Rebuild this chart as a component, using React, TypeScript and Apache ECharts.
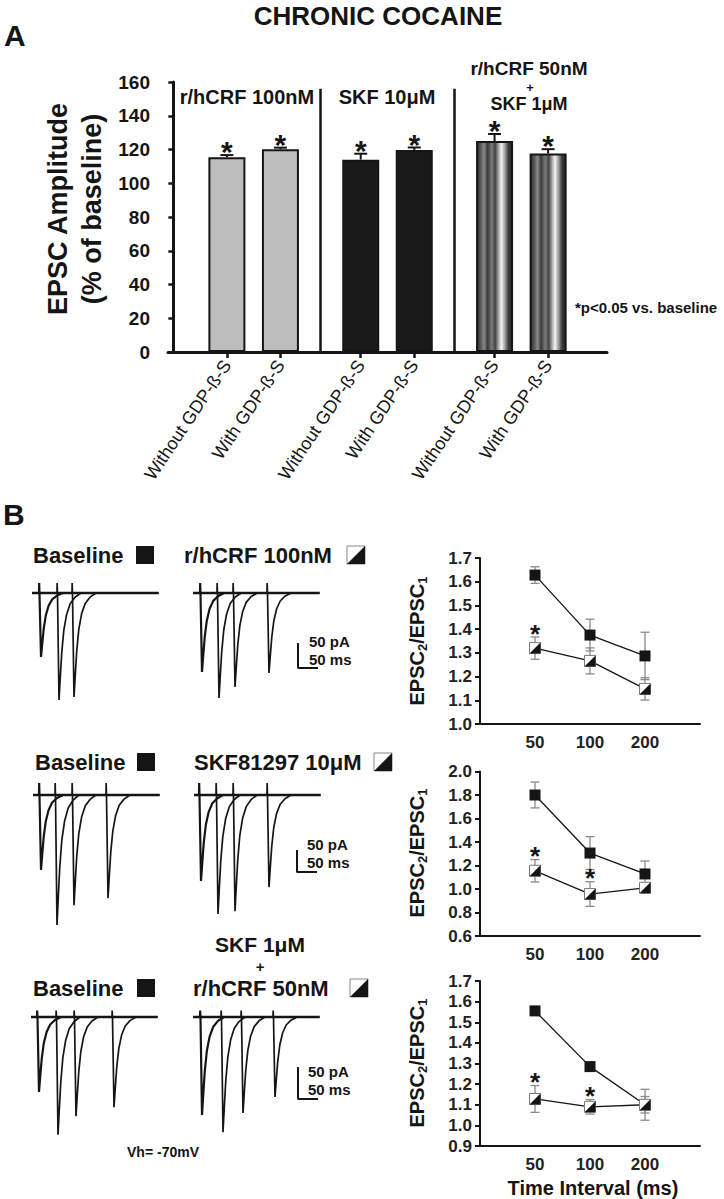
import React, { useEffect, useRef } from "react";
import * as echarts from "echarts";

// ---------- Panel A data ----------
const BAR_LABELS = ["Without GDP-ß-S", "With GDP-ß-S", "Without GDP-ß-S", "With GDP-ß-S", "Without GDP-ß-S", "With GDP-ß-S"];
const BAR_POSITIONS = [1, 2, 3.5, 4.5, 6, 7];
const BAR_VALUES = [115.4, 120.2, 114.0, 119.7, 125.0, 117.6];
const BAR_ERRORS = [1.3, 0.9, 3.5, 1.5, 4.2, 2.6];
const BAR_FILLS = ["gray", "gray", "black", "black", "striped", "striped"];
const BAR_SIG = [true, true, true, true, true, true];
const GROUP_SEPARATORS = [2.75, 5.25];
const BASELINE_PCT = 100;

// ---------- Panel B paired-pulse data ----------
const INTERVAL_LABELS = ["50", "100", "200"];
const PPR_BASE = [
  [1.628, 1.375, 1.287],
  [1.80, 1.306, 1.128],
  [1.555, 1.285, 1.10],
];
const PPR_BASE_ERR = [
  [0.035, 0.067, 0.10],
  [0.11, 0.14, 0.11],
  [0.008, 0.015, 0.04],
];
const PPR_TREAT = [
  [1.32, 1.266, 1.148],
  [1.155, 0.957, 1.01],
  [1.128, 1.09, 1.10],
];
const PPR_TREAT_ERR = [
  [0.047, 0.055, 0.047],
  [0.095, 0.105, 0.015],
  [0.065, 0.035, 0.075],
];
const PPR_SIG = [
  [true, false, false],
  [true, true, false],
  [true, true, false],
];
const PPR_MIN = [1.0, 0.6, 0.9];
const PPR_MAX = [1.7, 2.0, 1.7];
const PPR_STEP = [0.1, 0.2, 0.1];

// ---------- Panel B traces (ms, pA) ----------
const TRACE_ONSETS = [
  [[17.5, 62.5, 100], [17.5, 60, 100, 185]],
  [[15, 55, 97.5, 182.5], [12.5, 55, 97.5, 182.5]],
  [[15, 62.5, 107.5, 202.5], [17.5, 70, 120, 200]],
];
const TRACE_AMPS = [
  [[128, 214, 208], [158, 210, 188, 160]],
  [[170, 295, 250, 234], [195, 270, 264, 209]],
  [[117, 184, 155, 141], [153, 180, 150, 125]],
];
const ARTIFACT_PA = [20, 27, 10];
const EPSC_SHAPE_MS = [0, 0.4, 1.2, 5, 8, 12, 17, 24, 33, 45, 60];
const EPSC_SHAPE_FRAC = [0, 0, 0, -1, -0.8, -0.55, -0.35, -0.2, -0.1, -0.04, 0];
const SWEEP_MS = 317;
const SCALE_PA = 50;
const SCALE_MS = 50;
const SCALE_ANCHOR_MS = [262.5, 257.5, 262.5];
const SCALE_ANCHOR_PA = [-100, -125, -78];

const FF = "'Liberation Sans', Arial, Helvetica, sans-serif";
const INK = "#151515";

function txt(text: string, x: number, y: number, fontSize: number, opts: any = {}) {
  const align = opts.align || "left";
  const va = opts.va || "middle";
  return {
    type: "text",
    x,
    y,
    rotation: opts.rotation || 0,
    z: 100,
    style: {
      text,
      fill: opts.fill || INK,
      fontSize,
      fontWeight: opts.weight || "bold",
      fontFamily: FF,
      align,
      verticalAlign: va,
      textAlign: align,
      textVerticalAlign: va,
      rich: opts.rich,
    },
  };
}

function blackSquare(x: number, y: number, s: number) {
  return { type: "rect", z: 100, shape: { x, y, width: s, height: s }, style: { fill: INK } };
}
function halfSquare(x: number, y: number, s: number) {
  return {
    type: "group",
    z: 100,
    children: [
      { type: "rect", shape: { x, y, width: s, height: s }, style: { fill: "#fff", stroke: "#888", lineWidth: 1 } },
      { type: "polygon", shape: { points: [[x + s, y], [x + s, y + s], [x, y + s]] }, style: { fill: INK } },
    ],
  };
}

function barFill(kind: string) {
  if (kind === "gray") return "#bcbcbc";
  if (kind === "black") return "#1a1a1a";
  return new echarts.graphic.LinearGradient(0, 0, 1, 0, [
    { offset: 0, color: "#333" },
    { offset: 0.1, color: "#555" },
    { offset: 0.2, color: "#8a8a8a" },
    { offset: 0.3, color: "#3a3a3a" },
    { offset: 0.42, color: "#7a7a7a" },
    { offset: 0.52, color: "#444" },
    { offset: 0.62, color: "#b0b0b0" },
    { offset: 0.7, color: "#f4f4f4" },
    { offset: 0.8, color: "#9a9a9a" },
    { offset: 0.9, color: "#3a3a3a" },
    { offset: 1, color: "#2a2a2a" },
  ]);
}

function buildOption() {
  const grids: any[] = [];
  const xAxes: any[] = [];
  const yAxes: any[] = [];
  const series: any[] = [];

  // ----- Grid 0 : bar chart -----
  grids.push({ left: 168, top: 82, width: 439, height: 270 });
  xAxes.push({
    gridIndex: 0,
    type: "value",
    min: -0.1,
    max: 8.1,
    splitLine: { show: false },
    axisLine: { show: true, lineStyle: { color: INK, width: 3 } },
    axisTick: { show: true, customValues: BAR_POSITIONS, length: 6, lineStyle: { color: INK, width: 2.5 } },
    axisLabel: {
      customValues: BAR_POSITIONS,
      rotate: 56,
      margin: 10,
      fontSize: 18,
      color: INK,
      fontFamily: FF,
      formatter: (v: number) => {
        const i = BAR_POSITIONS.findIndex((p) => Math.abs(p - v) < 1e-6);
        return i >= 0 ? BAR_LABELS[i] : "";
      },
    },
  });
  yAxes.push({
    gridIndex: 0,
    type: "value",
    min: 0,
    max: 160,
    interval: 20,
    splitLine: { show: false },
    axisLine: { show: true, lineStyle: { color: INK, width: 3 } },
    axisTick: { show: true, length: 5, lineStyle: { color: INK, width: 2.5 } },
    axisLabel: { fontSize: 19, fontWeight: "bold", color: INK, margin: 18, fontFamily: FF },
  });

  // helper series for reference lines
  series.push({
    type: "line",
    xAxisIndex: 0,
    yAxisIndex: 0,
    data: [],
    z: 1,
    silent: true,
    markLine: {
      silent: true,
      symbol: ["none", "none"],
      label: { show: false },
      animation: false,
      data: [
        [
          { coord: [-0.1, BASELINE_PCT], lineStyle: { color: "#9a9a9a", width: 2, type: [14, 9] } },
          { coord: [8.5, BASELINE_PCT] },
        ],
        ...GROUP_SEPARATORS.map((s) => [
          { coord: [s, 0], lineStyle: { color: INK, width: 2.5, type: "solid" } },
          { coord: [s, 156] },
        ]),
      ],
    },
  });

  series.push({
    type: "bar",
    xAxisIndex: 0,
    yAxisIndex: 0,
    barWidth: 37,
    z: 2,
    data: BAR_POSITIONS.map((x, i) => ({
      value: [x, BAR_VALUES[i]],
      itemStyle: { color: barFill(BAR_FILLS[i]), borderColor: INK, borderWidth: 2 },
    })),
  });

  const STAR_A = 30;
  series.push({
    type: "custom",
    xAxisIndex: 0,
    yAxisIndex: 0,
    z: 3,
    encode: { x: 0, y: 1 },
    data: BAR_POSITIONS.map((x, i) => [x, BAR_VALUES[i], BAR_ERRORS[i], BAR_SIG[i] ? 1 : 0]),
    renderItem: (params: any, api: any) => {
      const x = api.value(0), y = api.value(1), e = api.value(2), sig = api.value(3);
      const p0 = api.coord([x, y]);
      const p1 = api.coord([x, y + e]);
      const cap = 6.5;
      const children: any[] = [
        { type: "line", shape: { x1: p0[0], y1: p0[1], x2: p1[0], y2: p1[1] }, style: { stroke: INK, lineWidth: 2 } },
        { type: "line", shape: { x1: p1[0] - cap, y1: p1[1], x2: p1[0] + cap, y2: p1[1] }, style: { stroke: INK, lineWidth: 2 } },
      ];
      if (sig) {
        children.push({
          type: "text",
          x: p1[0],
          y: p1[1] - 10 + 0.22 * STAR_A,
          style: { text: "*", fontSize: STAR_A, fontWeight: "bold", fontFamily: FF, fill: INK, align: "center", verticalAlign: "middle" },
        });
      }
      return { type: "group", children };
    },
  });

  // ----- Trace grids -----
  const ROW_BASE_Y = [593, 795, 1017];
  const ROW_PA_PER_PX = [2, 2.27, 1.5625];
  const ROW_X0 = [[32, 193], [33, 194], [31, 193]];
  const MS_PER_PX = 2.5;
  for (let r = 0; r < 3; r++) {
    for (let b = 0; b < 2; b++) {
      const gi = grids.length;
      grids.push({ left: ROW_X0[r][b], top: ROW_BASE_Y[r] - 20, width: SWEEP_MS / MS_PER_PX, height: 160 });
      xAxes.push({ gridIndex: gi, type: "value", min: 0, max: SWEEP_MS, show: false });
      yAxes.push({ gridIndex: gi, type: "value", min: -140 * ROW_PA_PER_PX[r], max: 20 * ROW_PA_PER_PX[r], show: false });
      series.push({
        type: "line",
        xAxisIndex: gi,
        yAxisIndex: gi,
        symbol: "none",
        lineStyle: { color: INK, width: 2.4 },
        data: [[0, 0], [SWEEP_MS, 0]],
      });
      const onsets = TRACE_ONSETS[r][b];
      const amps = TRACE_AMPS[r][b];
      onsets.forEach((t0, k) => {
        const pts = EPSC_SHAPE_MS.map((dt, j) => [t0 + dt, j === 1 ? ARTIFACT_PA[r] : EPSC_SHAPE_FRAC[j] * amps[k]]);
        series.push({
          type: "line",
          xAxisIndex: gi,
          yAxisIndex: gi,
          symbol: "none",
          clip: false,
          lineStyle: { color: INK, width: k === 0 ? 2.2 : 1.7 },
          data: pts,
        });
      });
      if (b === 1) {
        const t = SCALE_ANCHOR_MS[r], v = SCALE_ANCHOR_PA[r];
        series.push({
          type: "line",
          xAxisIndex: gi,
          yAxisIndex: gi,
          symbol: "none",
          clip: false,
          lineStyle: { color: INK, width: 2 },
          data: [[t, v], [t, v - SCALE_PA], [t + SCALE_MS, v - SCALE_PA]],
        });
      }
    }
  }

  // ----- Paired-pulse grids -----
  const PPR_TOP = [558, 771.5, 981];
  const PPR_H = [166, 164.5, 165];
  for (let p = 0; p < 3; p++) {
    const gi = grids.length;
    grids.push({ left: 480, top: PPR_TOP[p], width: 220, height: PPR_H[p] });
    xAxes.push({
      gridIndex: gi,
      type: "value",
      min: 0,
      max: 4,
      interval: 1,
      splitLine: { show: false },
      axisLine: { show: true, lineStyle: { color: INK, width: 2 } },
      axisTick: { show: false },
      axisLabel: {
        fontSize: 17,
        fontWeight: "bold",
        color: "#222",
        margin: 10,
        fontFamily: FF,
        formatter: (v: number) => (v >= 1 && v <= 3 ? INTERVAL_LABELS[Math.round(v) - 1] : ""),
      },
    });
    yAxes.push({
      gridIndex: gi,
      type: "value",
      min: PPR_MIN[p],
      max: PPR_MAX[p],
      interval: PPR_STEP[p],
      splitLine: { show: false },
      axisLine: { show: true, lineStyle: { color: INK, width: 2 } },
      axisTick: { show: true, length: 5, lineStyle: { color: INK, width: 2 } },
      axisLabel: {
        fontSize: 17,
        fontWeight: "bold",
        color: "#222",
        margin: 8,
        fontFamily: FF,
        formatter: (v: number) => v.toFixed(1),
      },
    });
    const errData = [0, 1, 2].flatMap((i) => [
      [i + 1, PPR_BASE[p][i], PPR_BASE_ERR[p][i]],
      [i + 1, PPR_TREAT[p][i], PPR_TREAT_ERR[p][i]],
    ]);
    series.push({
      type: "custom",
      xAxisIndex: gi,
      yAxisIndex: gi,
      z: 2,
      encode: { x: 0, y: 1 },
      data: errData,
      renderItem: (params: any, api: any) => {
        const x = api.value(0), y = api.value(1), e = api.value(2);
        const a = api.coord([x, y + e]);
        const b = api.coord([x, y - e]);
        const cap = 4.5;
        const st = { stroke: "#8a8a8a", lineWidth: 1.3 };
        return {
          type: "group",
          children: [
            { type: "line", shape: { x1: a[0], y1: a[1], x2: b[0], y2: b[1] }, style: st },
            { type: "line", shape: { x1: a[0] - cap, y1: a[1], x2: a[0] + cap, y2: a[1] }, style: st },
            { type: "line", shape: { x1: b[0] - cap, y1: b[1], x2: b[0] + cap, y2: b[1] }, style: st },
          ],
        };
      },
    });
    series.push({
      type: "line",
      xAxisIndex: gi,
      yAxisIndex: gi,
      z: 3,
      symbol: "none",
      lineStyle: { color: INK, width: 1.3 },
      data: PPR_TREAT[p].map((v, i) => [i + 1, v]),
    });
    series.push({
      type: "line",
      xAxisIndex: gi,
      yAxisIndex: gi,
      z: 4,
      symbol: "rect",
      symbolSize: 11,
      itemStyle: { color: INK },
      lineStyle: { color: INK, width: 1.3 },
      data: PPR_BASE[p].map((v, i) => [i + 1, v]),
    });
    series.push({
      type: "custom",
      xAxisIndex: gi,
      yAxisIndex: gi,
      z: 5,
      encode: { x: 0, y: 1 },
      data: PPR_TREAT[p].map((v, i) => [i + 1, v, PPR_TREAT_ERR[p][i], PPR_SIG[p][i] ? 1 : 0]),
      renderItem: (params: any, api: any) => {
        const x = api.value(0), y = api.value(1), e = api.value(2), sig = api.value(3);
        const c = api.coord([x, y]);
        const h = 5.5;
        const children: any[] = [
          { type: "rect", shape: { x: c[0] - h, y: c[1] - h, width: 2 * h, height: 2 * h }, style: { fill: "#fff", stroke: "#7a7a7a", lineWidth: 1 } },
          { type: "polygon", shape: { points: [[c[0] + h, c[1] - h], [c[0] + h, c[1] + h], [c[0] - h, c[1] + h]] }, style: { fill: INK } },
        ];
        if (sig) {
          const t = api.coord([x, y + e]);
          children.push({
            type: "text",
            x: t[0],
            y: t[1] - 9 + 0.22 * 26,
            style: { text: "*", fontSize: 26, fontWeight: "bold", fontFamily: FF, fill: INK, align: "center", verticalAlign: "middle" },
          });
        }
        return { type: "group", children };
      },
    });
  }

  // ----- Text / annotations -----
  const subRich = {
    a: { fontSize: 20, fontWeight: "bold", fontFamily: FF, fill: INK, color: INK, lineHeight: 24 },
    s: { fontSize: 13, fontWeight: "bold", fontFamily: FF, fill: INK, color: INK, lineHeight: 10, verticalAlign: "bottom" },
  };
  const elements: any[] = [
    txt("CHRONIC COCAINE", 378, 16, 26, { align: "center" }),
    txt("A", 4, 35, 30),
    txt("EPSC Amplitude", 58, 209, 27, { align: "center", rotation: Math.PI / 2 }),
    txt("(% of baseline)", 92, 209, 27, { align: "center", rotation: Math.PI / 2 }),
    txt("r/hCRF 100nM", 247, 97, 20, { align: "center" }),
    txt("SKF 10μM", 387, 97, 20, { align: "center" }),
    txt("r/hCRF 50nM", 529, 68, 19, { align: "center" }),
    txt("+", 530, 87, 13, { align: "center" }),
    txt("SKF 1μM", 529, 104, 18, { align: "center" }),
    txt("*p<0.05 vs. baseline", 575, 307, 15),
    txt("B", 3, 514, 30),
    // row 1
    txt("Baseline", 33, 555, 22),
    blackSquare(136, 546, 18),
    txt("r/hCRF 100nM", 184, 555, 22),
    halfSquare(347, 546, 18),
    txt("50 pA", 309, 641, 15),
    txt("50 ms", 309, 659, 15),
    // row 2
    txt("Baseline", 35, 762, 22),
    blackSquare(137, 753, 18),
    txt("SKF81297 10μM", 194, 762, 22),
    halfSquare(374, 753, 18),
    txt("50 pA", 307, 844, 15),
    txt("50 ms", 307, 862, 15),
    // row 3
    txt("SKF 1μM", 260, 944, 21, { align: "center" }),
    txt("+", 260, 966, 15, { align: "center" }),
    txt("Baseline", 33, 988, 22),
    blackSquare(137, 979, 18),
    txt("r/hCRF 50nM", 193, 988, 22),
    halfSquare(350, 979, 18),
    txt("50 pA", 308, 1071, 15),
    txt("50 ms", 308, 1089, 15),
    txt("Vh= -70mV", 163, 1152, 14, { align: "center" }),
    // PPR axis names
    txt("{a|EPSC}{s|2}{a|/EPSC}{s|1}", 417, 641, 20, { align: "center", rotation: Math.PI / 2, rich: subRich }),
    txt("{a|EPSC}{s|2}{a|/EPSC}{s|1}", 417, 853, 20, { align: "center", rotation: Math.PI / 2, rich: subRich }),
    txt("{a|EPSC}{s|2}{a|/EPSC}{s|1}", 417, 1063, 20, { align: "center", rotation: Math.PI / 2, rich: subRich }),
    txt("Time Interval (ms)", 593, 1188, 20, { align: "center" }),
  ];

  return {
    animation: false,
    backgroundColor: "#ffffff",
    textStyle: { fontFamily: FF },
    grid: grids,
    xAxis: xAxes,
    yAxis: yAxes,
    series,
    graphic: { elements },
  };
}

export default function App() {
  const ref = useRef<HTMLDivElement>(null);
  useEffect(() => {
    if (!ref.current) return;
    const chart = echarts.init(ref.current, undefined, { renderer: "svg" });
    chart.setOption(buildOption() as any);
    return () => chart.dispose();
  }, []);
  return (
    <div
      ref={ref}
      style={{ position: "absolute", left: 0, top: 0, width: 724, height: 1199, background: "#fff" }}
    />
  );
}
